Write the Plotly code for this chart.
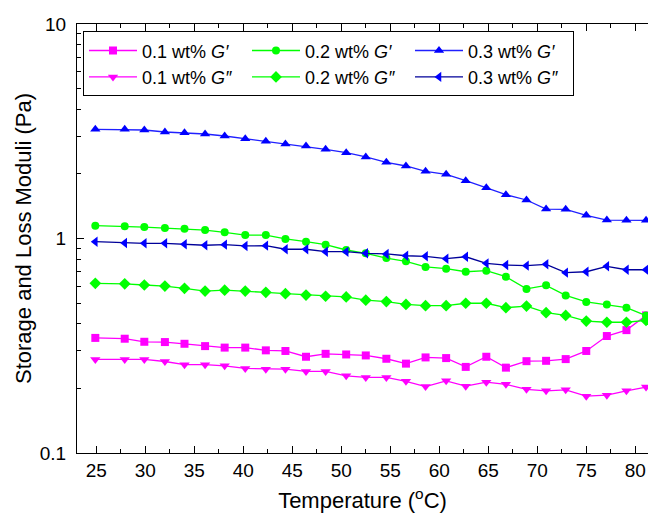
import plotly.graph_objects as go

temperature = [24.9, 27.9, 29.9, 32.0, 34.0, 36.1, 38.1, 40.2, 42.3, 44.3, 46.4, 48.4, 50.5, 52.5,
               54.6, 56.6, 58.6, 60.7, 62.7, 64.8, 66.8, 68.9, 70.9, 72.9, 75.0, 77.1, 79.1, 81.1]

g1_storage = [0.344, 0.341, 0.330, 0.329, 0.323, 0.315, 0.310, 0.310, 0.301, 0.299, 0.281, 0.290, 0.288, 0.285,
              0.275, 0.261, 0.279, 0.277, 0.252, 0.281, 0.250, 0.268, 0.269, 0.274, 0.299, 0.351, 0.374, 0.438]
g2_storage = [1.147, 1.140, 1.131, 1.119, 1.111, 1.095, 1.069, 1.038, 1.038, 0.995, 0.966, 0.936, 0.884, 0.853,
              0.811, 0.783, 0.737, 0.723, 0.700, 0.708, 0.664, 0.582, 0.605, 0.543, 0.506, 0.492, 0.476, 0.437]
g3_storage = [3.229, 3.229, 3.205, 3.137, 3.113, 3.070, 3.005, 2.920, 2.839, 2.758, 2.699, 2.606, 2.512, 2.399,
              2.266, 2.178, 2.058, 1.992, 1.860, 1.725, 1.600, 1.512, 1.372, 1.368, 1.283, 1.219, 1.216, 1.216]

g1_loss = [0.273, 0.273, 0.273, 0.267, 0.258, 0.258, 0.255, 0.248, 0.246, 0.246, 0.240, 0.240, 0.229, 0.225,
           0.225, 0.216, 0.204, 0.217, 0.205, 0.214, 0.209, 0.198, 0.195, 0.197, 0.184, 0.186, 0.195, 0.203]
g2_loss = [0.618, 0.615, 0.607, 0.600, 0.586, 0.569, 0.574, 0.569, 0.561, 0.553, 0.545, 0.538, 0.534, 0.516,
           0.508, 0.493, 0.486, 0.486, 0.499, 0.499, 0.476, 0.484, 0.451, 0.438, 0.412, 0.407, 0.407, 0.415]
g3_loss = [0.966, 0.953, 0.950, 0.950, 0.940, 0.930, 0.936, 0.923, 0.926, 0.891, 0.891, 0.868, 0.868, 0.853,
           0.847, 0.831, 0.826, 0.805, 0.822, 0.766, 0.752, 0.747, 0.758, 0.693, 0.700, 0.742, 0.715, 0.715]

names = ["0.1 wt% <i>G\u2032</i>", "0.2 wt% <i>G\u2032</i>", "0.3 wt% <i>G\u2032</i>",
         "0.1 wt% <i>G\u2033</i>", "0.2 wt% <i>G\u2033</i>", "0.3 wt% <i>G\u2033</i>"]
series = [g1_storage, g2_storage, g3_storage, g1_loss, g2_loss, g3_loss]
line_colors = ["#FF00FF", "#00FF00", "#2020FF", "#FF00FF", "#00FF00", "#000099"]
marker_colors = ["#FF00FF", "#00FF00", "#0000FF", "#FF00FF", "#00FF00", "#0000FF"]
symbols = ["square", "circle", "triangle-up", "triangle-down", "diamond", "triangle-left"]
sizes = [8, 8, 9, 9, 9, 9]

FONT = "Liberation Sans, Arial, sans-serif"

fig = go.Figure()
for name, ys, lc, mc, sym, sz in zip(names, series, line_colors, marker_colors, symbols, sizes):
    fig.add_trace(go.Scatter(
        x=temperature, y=ys, name=name, mode="lines+markers",
        line=dict(color=lc, width=1.3),
        marker=dict(symbol=sym, size=sz, color=mc, line=dict(width=0)),
    ))

minor_y = [m * 10 ** e for e in (-1, 0) for m in range(2, 10)]

fig.update_layout(
    width=648, height=513,
    margin=dict(l=77, r=0, t=24, b=60),
    paper_bgcolor="white", plot_bgcolor="white",
    font=dict(family=FONT, color="black"),
    showlegend=True,
    legend=dict(
        orientation="h", x=0.0105, y=0.983, xanchor="left", yanchor="top",
        entrywidth=100, entrywidthmode="pixels", itemwidth=48,
        bordercolor="black", borderwidth=1, bgcolor="white",
        font=dict(family=FONT, size=18, color="black"),
        tracegroupgap=0,
    ),
    xaxis=dict(
        range=[23.03, 81.3], tick0=25, dtick=5,
        ticks="inside", ticklen=7, tickwidth=1.2, tickcolor="black",
        minor=dict(ticks="inside", ticklen=3.5, dtick=2.5, tick0=25, tickcolor="black", tickwidth=1.2),
        showline=True, linecolor="black", linewidth=1.3, mirror="ticks",
        showgrid=False, zeroline=False,
        tickfont=dict(family=FONT, size=19, color="black"),
        title=dict(text="Temperature (<sup>o</sup>C)", font=dict(family=FONT, size=22, color="black"), standoff=17),
    ),
    yaxis=dict(
        type="log", range=[-1, 1],
        tickvals=[0.1, 1, 10], ticktext=["0.1", "1", "10"],
        ticks="inside", ticklen=7, tickwidth=1.2, tickcolor="black",
        minor=dict(ticks="inside", ticklen=3.5, tickvals=minor_y, tickcolor="black", tickwidth=1.2),
        showline=True, linecolor="black", linewidth=1.3, mirror=False,
        showgrid=False, zeroline=False,
        tickfont=dict(family=FONT, size=19, color="black"),
        ticklabelstandoff=6,
        title=dict(text="Storage and Loss Moduli (Pa)", font=dict(family=FONT, size=22, color="black"), standoff=1),
    ),
)

fig.write_html("out.html")
